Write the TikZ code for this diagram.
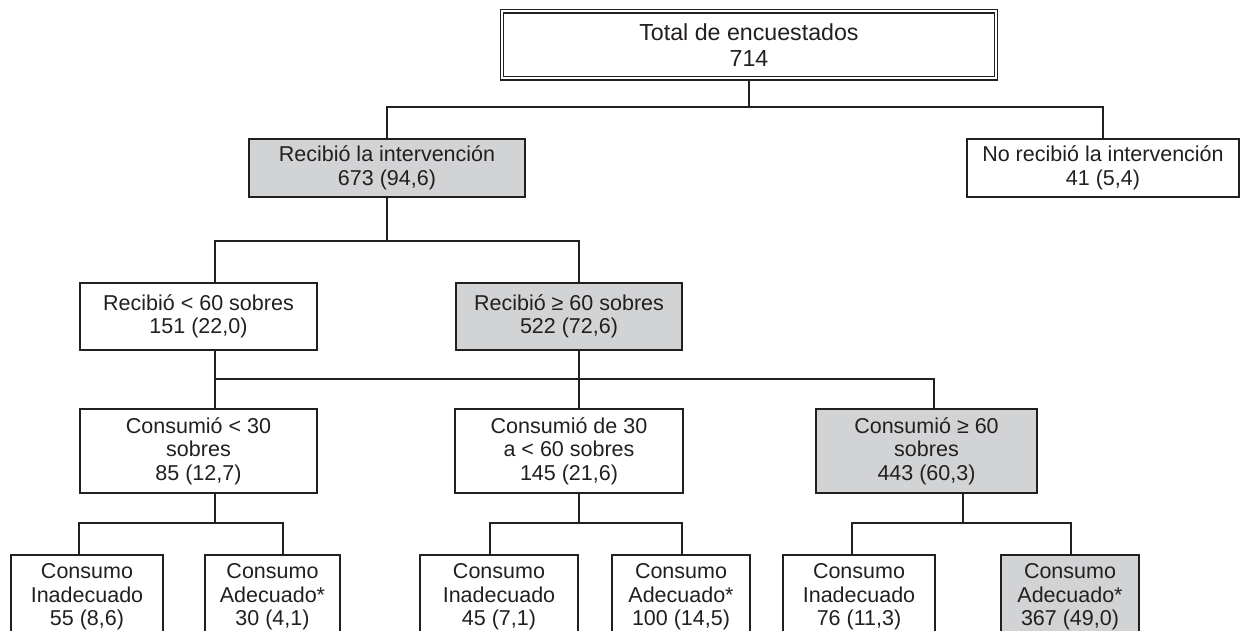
\documentclass[tikz,border=0pt]{standalone}
\usepackage{fontspec}
\setmainfont{Liberation Sans}
\definecolor{ln}{HTML}{231F20}
\definecolor{gr}{HTML}{D1D3D4}
\begin{document}
\begin{tikzpicture}[x=1pt,y=-1pt,
  bx/.style={draw=ln, line width=2pt, inner sep=0pt, align=center, text=ln,
    font=\fontsize{21.5}{23.6}\selectfont},
  gbx/.style={bx, fill=gr},
  lvA/.style={minimum height=58pt},
  lvB/.style={minimum height=67pt},
  lvC/.style={minimum height=84pt},
  cn/.style={draw=ln, line width=2pt}]
\useasboundingbox (0,0) rectangle (1241,631);
\fill[white] (0,0) rectangle (1241,631);
\clip (0,0) rectangle (1241,631);

% nodes
\node[bx, double=white, double distance=2pt, line width=1.4pt,
  minimum width=494pt, minimum height=67pt,
  font=\fontsize{23.2}{26.7}\selectfont] (top) at (749,45) {Total de encuestados\\714};

\node[gbx, lvA, minimum width=276pt] (rec) at (387,168) {Recibió la intervención\\673 (94,6)};
\node[bx, lvA, minimum width=272pt] (norec) at (1103,168) {No recibió la intervención\\41 (5,4)};

\node[bx, lvB, minimum width=237pt] (rlt) at (198.5,316.5) {Recibió < 60 sobres\\151 (22,0)};
\node[gbx, lvB, minimum width=226pt] (rge) at (569,316.5) {Recibió ≥ 60 sobres\\522 (72,6)};

\node[bx, lvC, minimum width=237pt] (clt) at (198.5,451) {Consumió < 30\\sobres\\85 (12,7)};
\node[bx, lvC, minimum width=228pt] (cmid) at (569,451) {Consumió de 30\\a < 60 sobres\\145 (21,6)};
\node[gbx, lvC, minimum width=221pt] (cge) at (926.5,451) {Consumió ≥ 60\\sobres\\443 (60,3)};

\node[bx, lvC, minimum width=152pt] (b1) at (87,597) {Consumo\\Inadecuado\\55 (8,6)};
\node[bx, lvC, minimum width=135pt] (b2) at (272.5,597) {Consumo\\Adecuado*\\30 (4,1)};
\node[bx, lvC, minimum width=158pt] (b3) at (499,597) {Consumo\\Inadecuado\\45 (7,1)};
\node[bx, lvC, minimum width=138pt] (b4) at (681,597) {Consumo\\Adecuado*\\100 (14,5)};
\node[bx, lvC, minimum width=152pt] (b5) at (859,597) {Consumo\\Inadecuado\\76 (11,3)};
\node[gbx, lvC, minimum width=138pt] (b6) at (1070,597) {Consumo\\Adecuado*\\367 (49,0)};

% connectors level 0 -> 1
\coordinate (j0) at (749,107);
\draw[cn] (top.south) -- (j0);
\draw[cn] (rec.north) |- (j0) -| (norec.north);

% level 1 -> 2
\coordinate (j1) at (387,241);
\draw[cn] (rec.south) -- (j1);
\draw[cn] ([xshift=16.5pt]rlt.north) |- (j1) -| ([xshift=10pt]rge.north);

% level 2 -> 3
\coordinate (j2) at (579,379);
\coordinate (a2) at ([xshift=16.5pt]clt.north);
\draw[cn] ([xshift=16.5pt]rlt.south) -- (a2);
\draw[cn] ([xshift=10pt]rge.south) -- ([xshift=10pt]cmid.north);
\draw[cn] (a2 |- j2) -| ([xshift=7.5pt]cge.north);

% level 3 -> 4
\coordinate (j3a) at (215,523);
\draw[cn] ([xshift=16.5pt]clt.south) -- (j3a);
\draw[cn] ([xshift=-8pt]b1.north) |- (j3a) -| ([xshift=10.5pt]b2.north);

\coordinate (j3b) at (579,523);
\draw[cn] ([xshift=10pt]cmid.south) -- (j3b);
\draw[cn] ([xshift=-9pt]b3.north) |- (j3b) -| ([xshift=1pt]b4.north);

\coordinate (j3c) at (963,523);
\draw[cn] ([xshift=36.5pt]cge.south) -- (j3c);
\draw[cn] ([xshift=-7pt]b5.north) |- (j3c) -| ([xshift=1pt]b6.north);
\end{tikzpicture}
\end{document}
